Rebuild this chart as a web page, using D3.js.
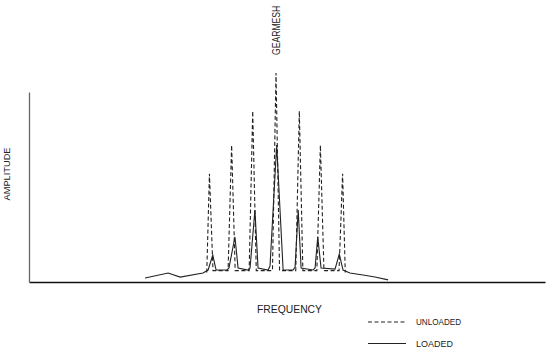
<!DOCTYPE html>
<html>
<head>
<meta charset="utf-8">
<script src="https://cdn.jsdelivr.net/npm/d3@7"></script>
<style>
    body { margin: 0; background: #fff; }
    text { font-family: "Liberation Sans", Arial, sans-serif; fill: #222; }
    .trace { fill: none; stroke: #222; stroke-linejoin: miter; }
    .unloaded { stroke-dasharray: 4 2.5; stroke-width: 1.1; }
    .loaded { stroke-width: 1.1; }
</style>
</head>
<body>
<div id="spectrum"></div>
<script>
// Frequency in sideband orders around gearmesh (0), amplitude in arbitrary units

// Unloaded gear: sideband spikes (dashed trace)
var unloadedFreq = [-3.12, -3.0, -2.84, -2.16, -2.0, -1.84, -1.21, -1.05, -0.89, -0.16, 0, 0.16,
    0.89, 1.05, 1.21, 1.84, 2.0, 2.16, 2.84, 3.0, 3.12];
var unloadedAmp = [5, 57, 6, 6, 72, 6, 6, 90, 6, 6, 110, 6,
    6, 90, 6, 6, 72, 6, 6, 57, 5];

// Loaded gear: full trace (solid)
var loadedFreq = [-5.90, -4.86, -4.32, -3.29, -3.06, -2.85, -2.70, -2.22, -2.12, -1.85, -1.71, -1.26,
    -1.17, -0.95, -0.81, -0.36, -0.27, 0.03, 0.32, 0.77, 0.86, 1.00, 1.13, 1.67,
    1.76, 1.88, 2.03, 2.66, 2.85, 3.02, 3.33, 3.92, 4.46, 5.05];
var loadedAmp = [2.1, 4.7, 2.6, 4.7, 6.3, 14.2, 6.3, 6.3, 7.4, 23.7, 7.4, 6.3,
    7.4, 37.9, 7.4, 6.3, 8.4, 72.1, 6.3, 6.3, 7.9, 37.9, 7.4, 6.3,
    7.4, 23.7, 7.4, 6.8, 14.7, 6.3, 4.7, 3.7, 2.6, 1.1];

var legendLabels = ["UNLOADED", "LOADED"];

function init() {

    var width = 547;
    var height = 352;

    var svg = d3.select("#spectrum")
        .append("svg")
        .attr("width", width)
        .attr("height", height);

    // Scales
    var x = d3.scaleLinear().domain([-11.13, 12.12]).range([29, 545]);
    var y = d3.scaleLinear().domain([0, 100]).range([282, 92]);

    // Axes without ticks
    svg.append("g")
        .attr("transform", "translate(0," + y(0) + ")")
        .call(d3.axisBottom(x).tickValues([]).tickSizeOuter(0))
        .select(".domain")
        .attr("stroke", "#111")
        .attr("stroke-width", 1.3);

    svg.append("g")
        .attr("transform", "translate(" + x.range()[0] + ",0)")
        .call(d3.axisLeft(y).tickValues([]).tickSizeOuter(0))
        .select(".domain")
        .attr("stroke", "#666")
        .attr("stroke-width", 1.3);

    var line = d3.line()
        .x(function (d) { return x(d[0]); })
        .y(function (d) { return y(d[1]); });

    var unloaded = d3.zip(unloadedFreq, unloadedAmp);
    var loaded = d3.zip(loadedFreq, loadedAmp);

    svg.append("path")
        .datum(unloaded)
        .attr("class", "trace unloaded")
        .attr("d", line);

    svg.append("path")
        .datum(loaded)
        .attr("class", "trace loaded")
        .attr("d", line);

    // Gearmesh label above centre spike (squeezed to match the narrow plot font)
    svg.append("text")
        .attr("transform", "translate(" + (x(0) + 3.5) + ",55) rotate(-90) scale(0.82,1)")
        .attr("font-size", 10.5)
        .text("GEARMESH");

    // Axis titles
    svg.append("text")
        .attr("transform", "translate(9.5,174) rotate(-90)")
        .attr("text-anchor", "middle")
        .attr("font-size", 9.5)
        .attr("textLength", 53)
        .attr("lengthAdjust", "spacingAndGlyphs")
        .text("AMPLITUDE");

    svg.append("text")
        .attr("x", 257)
        .attr("y", 313)
        .attr("font-size", 10)
        .attr("textLength", 65)
        .attr("lengthAdjust", "spacingAndGlyphs")
        .text("FREQUENCY");

    // Legend
    var legend = svg.append("g").attr("class", "legend");
    var rows = [
        { label: legendLabels[0], cls: "trace unloaded", y: 322, len: 45 },
        { label: legendLabels[1], cls: "trace loaded", y: 343.5, len: 37 }
    ];

    rows.forEach(function (r) {
        legend.append("line")
            .attr("class", r.cls)
            .attr("x1", 368)
            .attr("x2", 406)
            .attr("y1", r.y)
            .attr("y2", r.y);
        legend.append("text")
            .attr("x", 416)
            .attr("y", r.y + 3)
            .attr("font-size", 8.5)
            .attr("textLength", r.len)
            .attr("lengthAdjust", "spacingAndGlyphs")
            .text(r.label);
    });
}

window.onload = init;
</script>
</body>
</html>
